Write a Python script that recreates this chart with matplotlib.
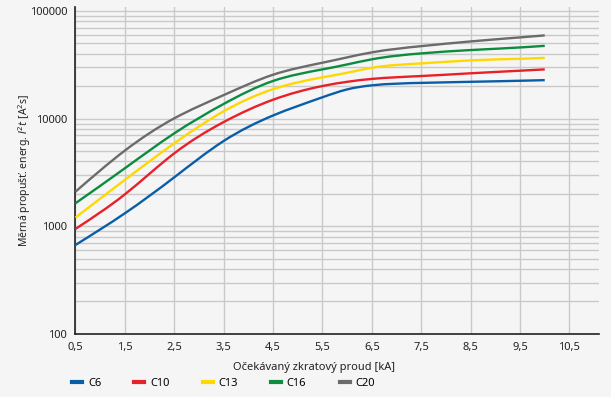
import matplotlib
matplotlib.use("Agg")
import matplotlib.pyplot as plt
import numpy as np
from matplotlib.path import Path
from matplotlib.patches import PathPatch
from matplotlib.lines import Line2D
from matplotlib.ticker import FixedLocator, LogLocator, NullFormatter

# proud [kA]
current = [0.5, 1.5, 2.5, 3.5, 4.5, 5.5, 6.0, 6.5, 7.5, 8.5, 9.5, 10.0]

# I2t [A2s]
c6 = [670, 1320, 2850, 6200, 10700, 15800, 18700, 20400, 21500, 22000, 22500, 22800]
c10 = [945, 1980, 4760, 9300, 15000, 20100, 22000, 23400, 24900, 26400, 27900, 28700]
c13 = [1204, 2700, 5900, 11700, 18800, 24200, 26700, 29700, 32600, 34800, 36000, 36700]
c16 = [1636, 3460, 7300, 13700, 22400, 28700, 31900, 35600, 40400, 43400, 45900, 47500]
c20 = [2095, 5050, 10070, 16550, 25600, 33100, 37100, 41300, 47200, 52200, 56900, 59400]

series = [("C6", c6, "#0a5ea8"), ("C10", c10, "#e8202a"), ("C13", c13, "#ffd800"),
          ("C16", c16, "#0b8c3e"), ("C20", c20, "#6b6b6b")]

xticks = [0.5, 1.5, 2.5, 3.5, 4.5, 5.5, 6.5, 7.5, 8.5, 9.5, 10.5]
xtick_labels = ["0,5", "1,5", "2,5", "3,5", "4,5", "5,5", "6,5", "7,5", "8,5", "9,5", "10,5"]
yticks = [100, 1000, 10000, 100000]


def smooth_path(x, y):
    # prirozeny kubicky spline v prostoru (x, log y), vykresleny jako Bezier
    x = np.asarray(x, float)
    l = np.log10(np.asarray(y, float))
    n = len(x)
    h = np.diff(x)
    A = np.zeros((n, n))
    r = np.zeros(n)
    A[0, 0] = A[-1, -1] = 1
    for i in range(1, n - 1):
        A[i, i - 1] = h[i - 1]
        A[i, i] = 2 * (h[i - 1] + h[i])
        A[i, i + 1] = h[i]
        r[i] = 6 * ((l[i + 1] - l[i]) / h[i] - (l[i] - l[i - 1]) / h[i - 1])
    M = np.linalg.solve(A, r)
    m = np.empty(n)
    m[:-1] = (l[1:] - l[:-1]) / h - h * (2 * M[:-1] + M[1:]) / 6
    m[-1] = (l[-1] - l[-2]) / h[-1] + h[-1] * (M[-2] + 2 * M[-1]) / 6
    verts = [(x[0], 10 ** l[0])]
    codes = [Path.MOVETO]
    for i in range(n - 1):
        verts += [(x[i] + h[i] / 3, 10 ** (l[i] + m[i] * h[i] / 3)),
                  (x[i + 1] - h[i] / 3, 10 ** (l[i + 1] - m[i + 1] * h[i] / 3)),
                  (x[i + 1], 10 ** l[i + 1])]
        codes += [Path.CURVE4] * 3
    return Path(verts, codes)


plt.rcParams['font.family'] = ['Noto Sans', 'DejaVu Sans']
bg = "#f5f5f5"
fig = plt.figure(figsize=(6.11, 3.97), dpi=100, facecolor=bg)
ax = fig.add_axes([0.1235, 0.159, 0.857, 0.823], facecolor=bg)

ax.set_yscale('log')
ax.set_xlim(0.5, 11.1)
ax.set_ylim(100, 108700)

handles = []
for name, vals, col in series:
    ax.add_patch(PathPatch(smooth_path(current, vals), fill=False, edgecolor=col,
                           lw=1.7, capstyle='butt', zorder=3))
    handles.append(Line2D([], [], color=col, lw=3, label=name))

ax.xaxis.set_major_locator(FixedLocator(xticks))
ax.set_xticklabels(xtick_labels)
ax.yaxis.set_major_locator(FixedLocator(yticks))
ax.set_yticklabels([str(v) for v in yticks])
ax.yaxis.set_minor_locator(LogLocator(base=10, subs=range(2, 10)))
ax.yaxis.set_minor_formatter(NullFormatter())

ax.grid(True, which='both', color='#c9c9c9', lw=1.0, zorder=0)
ax.tick_params(which='both', length=0, labelsize=8, colors='#222222', pad=6)
for s in ['top', 'right']:
    ax.spines[s].set_visible(False)
for s in ['left', 'bottom']:
    ax.spines[s].set_color('#222222')
    ax.spines[s].set_linewidth(1.2)

ax.set_xlabel("Očekávaný zkratový proud [kA]", fontsize=8, color='#222222', labelpad=4)
ax.xaxis.set_label_coords(0.455, -0.085)
ax.set_ylabel("Měrná propušť. energ. $\\mathit{I^2t}$ [A$^2$s]", fontsize=7.5, color='#222222')
ax.yaxis.set_label_coords(-0.082, 0.5)

fig.legend(handles=handles, loc='lower left', bbox_to_anchor=(0.102, -0.005), ncol=5,
           frameon=False, handlelength=0.9, handletextpad=0.5, columnspacing=3.0, fontsize=8)

fig.savefig("out.png", dpi=100, facecolor=bg)
